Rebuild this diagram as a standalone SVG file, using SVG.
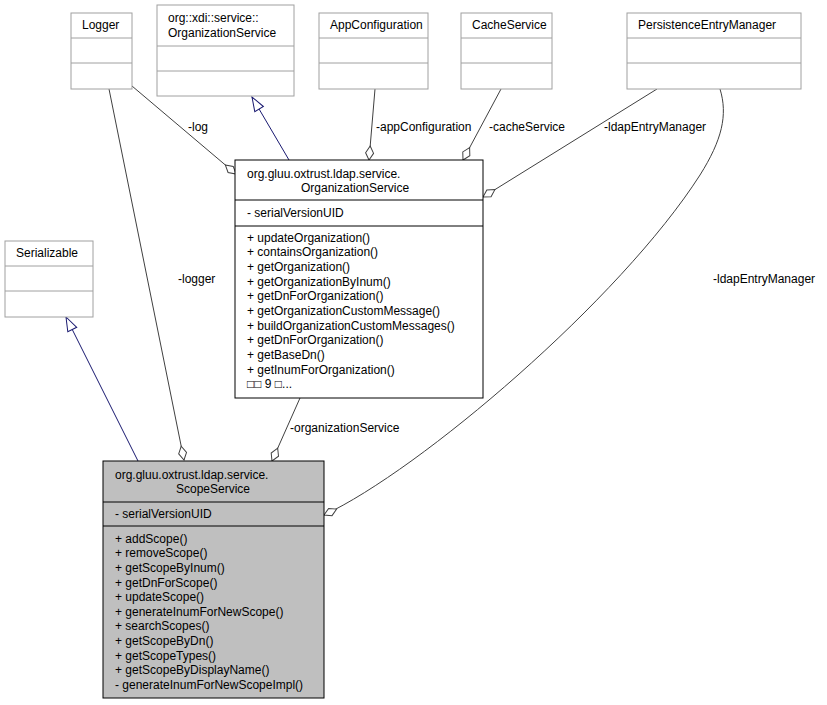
<svg xmlns="http://www.w3.org/2000/svg" width="827" height="705" viewBox="0 0 827 705">
<style>
text{font-family:"Liberation Sans",Arial,sans-serif;font-size:12px;fill:#000}
.g rect,.g line{stroke:#a0a0a0;fill:#fff}
.b rect,.b line{stroke:#000;fill:#fff}
.e{stroke:#404040;fill:none}
.n{stroke:#191970;fill:none}
</style>
<defs>
<marker id="dia" markerWidth="16" markerHeight="10" refX="15" refY="5" orient="auto" markerUnits="userSpaceOnUse"><path d="M1,5 L8,1 L15,5 L8,9 Z" fill="#fff" stroke="#404040"/></marker>
<marker id="tri" markerWidth="16" markerHeight="12" refX="15" refY="6" orient="auto" markerUnits="userSpaceOnUse"><path d="M1,1 L15,6 L1,11 Z" fill="#fff" stroke="#191970"/></marker>
</defs>
<g id="connectors">
<path class="e" d="M109,89 L184,460" marker-end="url(#dia)"/>
<text x="178" y="283">-logger</text>
<path class="e" d="M132,86 L236,174" marker-end="url(#dia)"/>
<text x="188" y="131">-log</text>
<path class="n" d="M289,160 L252,97" marker-end="url(#tri)"/>
<path class="e" d="M375,89 L369,160" marker-end="url(#dia)"/>
<text x="376" y="131">-appConfiguration</text>
<path class="e" d="M501,89 L463,160" marker-end="url(#dia)"/>
<text x="489" y="131">-cacheService</text>
<path class="e" d="M657,89 L483,197" marker-end="url(#dia)"/>
<text x="604" y="131">-ldapEntryManager</text>
<path class="e" d="M720,89 C728,115 722,140 700,175 C620,300 420,470 324,515" marker-end="url(#dia)"/>
<text x="713" y="283">-ldapEntryManager</text>
<path class="n" d="M138,461 L66,317" marker-end="url(#tri)"/>
<path class="e" d="M300,398 L272,461" marker-end="url(#dia)"/>
<text x="290" y="432">-organizationService</text>
</g>
<g id="logger" class="g"><rect x="71" y="13" width="61" height="76"/><line x1="71" y1="38" x2="132" y2="38"/><line x1="71" y1="63" x2="132" y2="63"/><text x="82" y="29">Logger</text></g>
<g id="xdiOrg" class="g"><rect x="157" y="5" width="137" height="91"/><line x1="157" y1="46" x2="294" y2="46"/><line x1="157" y1="71" x2="294" y2="71"/><text x="168" y="22">org::xdi::service::</text><text x="168" y="37">OrganizationService</text></g>
<g id="appConfig" class="g"><rect x="319" y="13" width="109" height="76"/><line x1="319" y1="38" x2="428" y2="38"/><line x1="319" y1="63" x2="428" y2="63"/><text x="330" y="29">AppConfiguration</text></g>
<g id="cache" class="g"><rect x="461" y="13" width="91" height="76"/><line x1="461" y1="38" x2="552" y2="38"/><line x1="461" y1="63" x2="552" y2="63"/><text x="472" y="29">CacheService</text></g>
<g id="pem" class="g"><rect x="627" y="13" width="174" height="76"/><line x1="627" y1="38" x2="801" y2="38"/><line x1="627" y1="63" x2="801" y2="63"/><text x="638" y="29">PersistenceEntryManager</text></g>
<g id="serializable" class="g"><rect x="5" y="241" width="88" height="76"/><line x1="5" y1="266" x2="93" y2="266"/><line x1="5" y1="291" x2="93" y2="291"/><text x="16" y="257">Serializable</text></g>
<g id="orgService" class="b"><rect x="235" y="160" width="248" height="238"/><line x1="235" y1="200" x2="483" y2="200"/><line x1="235" y1="226" x2="483" y2="226"/>
<text x="247" y="178">org.gluu.oxtrust.ldap.service.</text><text x="301" y="192">OrganizationService</text>
<text x="247" y="217">- serialVersionUID</text>
<text x="247" y="242">+ updateOrganization()</text>
<text x="247" y="256">+ containsOrganization()</text>
<text x="247" y="271">+ getOrganization()</text>
<text x="247" y="286">+ getOrganizationByInum()</text>
<text x="247" y="300">+ getDnForOrganization()</text>
<text x="247" y="315">+ getOrganizationCustomMessage()</text>
<text x="247" y="330">+ buildOrganizationCustomMessages()</text>
<text x="247" y="344">+ getDnForOrganization()</text>
<text x="247" y="359">+ getBaseDn()</text>
<text x="247" y="374">+ getInumForOrganization()</text>
<text x="247" y="388">□□ 9 □...</text></g>
<g id="scopeService"><rect x="103" y="461" width="221" height="237" fill="#bfbfbf" stroke="#000"/><line x1="103" y1="502" x2="324" y2="502" stroke="#000"/><line x1="103" y1="526" x2="324" y2="526" stroke="#000"/>
<text x="115" y="479">org.gluu.oxtrust.ldap.service.</text><text x="213" y="493" text-anchor="middle">ScopeService</text>
<text x="115" y="518">- serialVersionUID</text>
<text x="115" y="543">+ addScope()</text>
<text x="115" y="557">+ removeScope()</text>
<text x="115" y="572">+ getScopeByInum()</text>
<text x="115" y="587">+ getDnForScope()</text>
<text x="115" y="601">+ updateScope()</text>
<text x="115" y="616">+ generateInumForNewScope()</text>
<text x="115" y="630">+ searchScopes()</text>
<text x="115" y="645">+ getScopeByDn()</text>
<text x="115" y="660">+ getScopeTypes()</text>
<text x="115" y="674">+ getScopeByDisplayName()</text>
<text x="115" y="689">- generateInumForNewScopeImpl()</text></g>
</svg>
